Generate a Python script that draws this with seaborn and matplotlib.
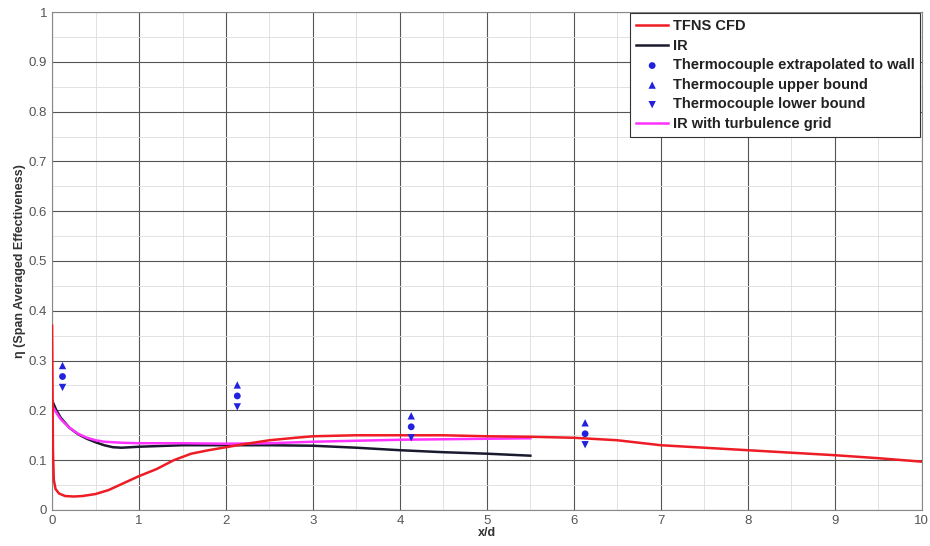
import numpy as np
import pandas as pd
import matplotlib
matplotlib.use('Agg')
import matplotlib.pyplot as plt
import seaborn as sns
from matplotlib.ticker import MultipleLocator

# ==== DATA ====
cfd_x = [0.0, 0.005, 0.01, 0.02, 0.04, 0.08, 0.15, 0.25, 0.35, 0.5, 0.65, 0.8, 1.0, 1.2, 1.4,
         1.6, 1.8, 2.0, 2.2, 2.5, 2.8, 3.0, 3.5, 4.0, 4.5, 5.0, 5.5, 6.0, 6.5, 7.0, 7.5, 8.0,
         8.5, 9.0, 9.5, 10.0]
cfd_y = [0.37, 0.25, 0.12, 0.06, 0.042, 0.033, 0.028, 0.027, 0.028, 0.032, 0.04, 0.052, 0.068,
         0.082, 0.1, 0.113, 0.12, 0.126, 0.132, 0.14, 0.145, 0.148, 0.15, 0.15, 0.15, 0.148,
         0.147, 0.145, 0.14, 0.13, 0.125, 0.12, 0.115, 0.11, 0.104, 0.097]

ir_x = [0.0, 0.05, 0.1, 0.2, 0.3, 0.4, 0.5, 0.6, 0.7, 0.8, 1.0, 1.5, 2.0, 2.5, 3.0, 3.5, 4.0,
        4.5, 5.0, 5.5]
ir_y = [0.22, 0.2, 0.185, 0.165, 0.152, 0.143, 0.136, 0.13, 0.126, 0.125, 0.127, 0.13, 0.13,
        0.13, 0.129, 0.125, 0.12, 0.116, 0.113, 0.109]

grid_x = [0.0, 0.05, 0.1, 0.2, 0.3, 0.4, 0.5, 0.6, 0.8, 1.0, 1.5, 2.0, 2.5, 3.0, 3.5, 4.0,
          4.5, 5.0, 5.5]
grid_y = [0.21, 0.195, 0.182, 0.165, 0.153, 0.145, 0.14, 0.137, 0.135, 0.134, 0.134, 0.133,
          0.134, 0.137, 0.139, 0.141, 0.142, 0.143, 0.144]

tc_x = [0.12, 2.13, 4.13, 6.13]
tc_upper = [0.29, 0.251, 0.189, 0.175]
tc_wall = [0.268, 0.229, 0.167, 0.153]
tc_lower = [0.246, 0.207, 0.145, 0.131]

plt.rcParams['font.family'] = ['Liberation Sans', 'DejaVu Sans']

fig, ax = plt.subplots(figsize=(9.3, 5.46), dpi=100)
fig.subplots_adjust(left=0.056, right=0.991, top=0.978, bottom=0.066)

sns.lineplot(x=cfd_x, y=cfd_y, ax=ax, color='#ee1c24', lw=1.8, label='TFNS CFD', sort=False,
             zorder=4)
sns.lineplot(x=ir_x, y=ir_y, ax=ax, color='#1a1a2e', lw=1.8, label='IR', sort=False)
sns.scatterplot(x=tc_x, y=tc_wall, ax=ax, color='#2222dd', marker='o', s=24, edgecolor='none',
                label='Thermocouple extrapolated to wall', zorder=5)
sns.scatterplot(x=tc_x, y=tc_upper, ax=ax, color='#2222dd', marker='^', s=28, edgecolor='none',
                label='Thermocouple upper bound', zorder=5)
sns.scatterplot(x=tc_x, y=tc_lower, ax=ax, color='#2222dd', marker='v', s=28, edgecolor='none',
                label='Thermocouple lower bound', zorder=5)
sns.lineplot(x=grid_x, y=grid_y, ax=ax, color='#ff33ff', lw=1.8, label='IR with turbulence grid',
             sort=False)

ax.set_xlim(0, 10)
ax.set_ylim(0, 1)
ax.xaxis.set_major_locator(MultipleLocator(1))
ax.yaxis.set_major_locator(MultipleLocator(0.1))
ax.xaxis.set_minor_locator(MultipleLocator(0.5))
ax.yaxis.set_minor_locator(MultipleLocator(0.05))
ax.set_xticklabels([f'{int(v)}' for v in ax.get_xticks()])
ax.set_yticks(np.round(np.arange(0, 1.01, 0.1), 1))
ax.set_yticklabels(['0'] + [f'{v:.1f}' for v in np.arange(0.1, 0.95, 0.1)] + ['1'])
ax.grid(which='major', color='#555555', lw=0.8)
ax.grid(which='minor', color='#dddddd', lw=0.6)
ax.set_axisbelow(True)
ax.tick_params(which='both', length=0, labelsize=9.5, labelcolor='#555555')
for sp in ax.spines.values():
    sp.set_color('#888888')

ax.set_xlabel('x/d', fontsize=9, fontweight='bold', color='#333333', labelpad=0)
ax.set_ylabel('η (Span Averaged Effectiveness)', fontsize=9, fontweight='bold', color='#333333',
              labelpad=2)

leg = ax.legend(loc='upper right', frameon=True, fancybox=False, fontsize=10.5, handlelength=2.2,
                borderpad=0.4, labelspacing=0.38, handletextpad=0.3, borderaxespad=0.1)
leg.get_frame().set_edgecolor('#333333')
leg.get_frame().set_linewidth(0.8)
leg.get_frame().set_alpha(1)
for t in leg.get_texts():
    t.set_fontweight('bold')
    t.set_color('#222222')

fig.savefig('out.png', dpi=100)
